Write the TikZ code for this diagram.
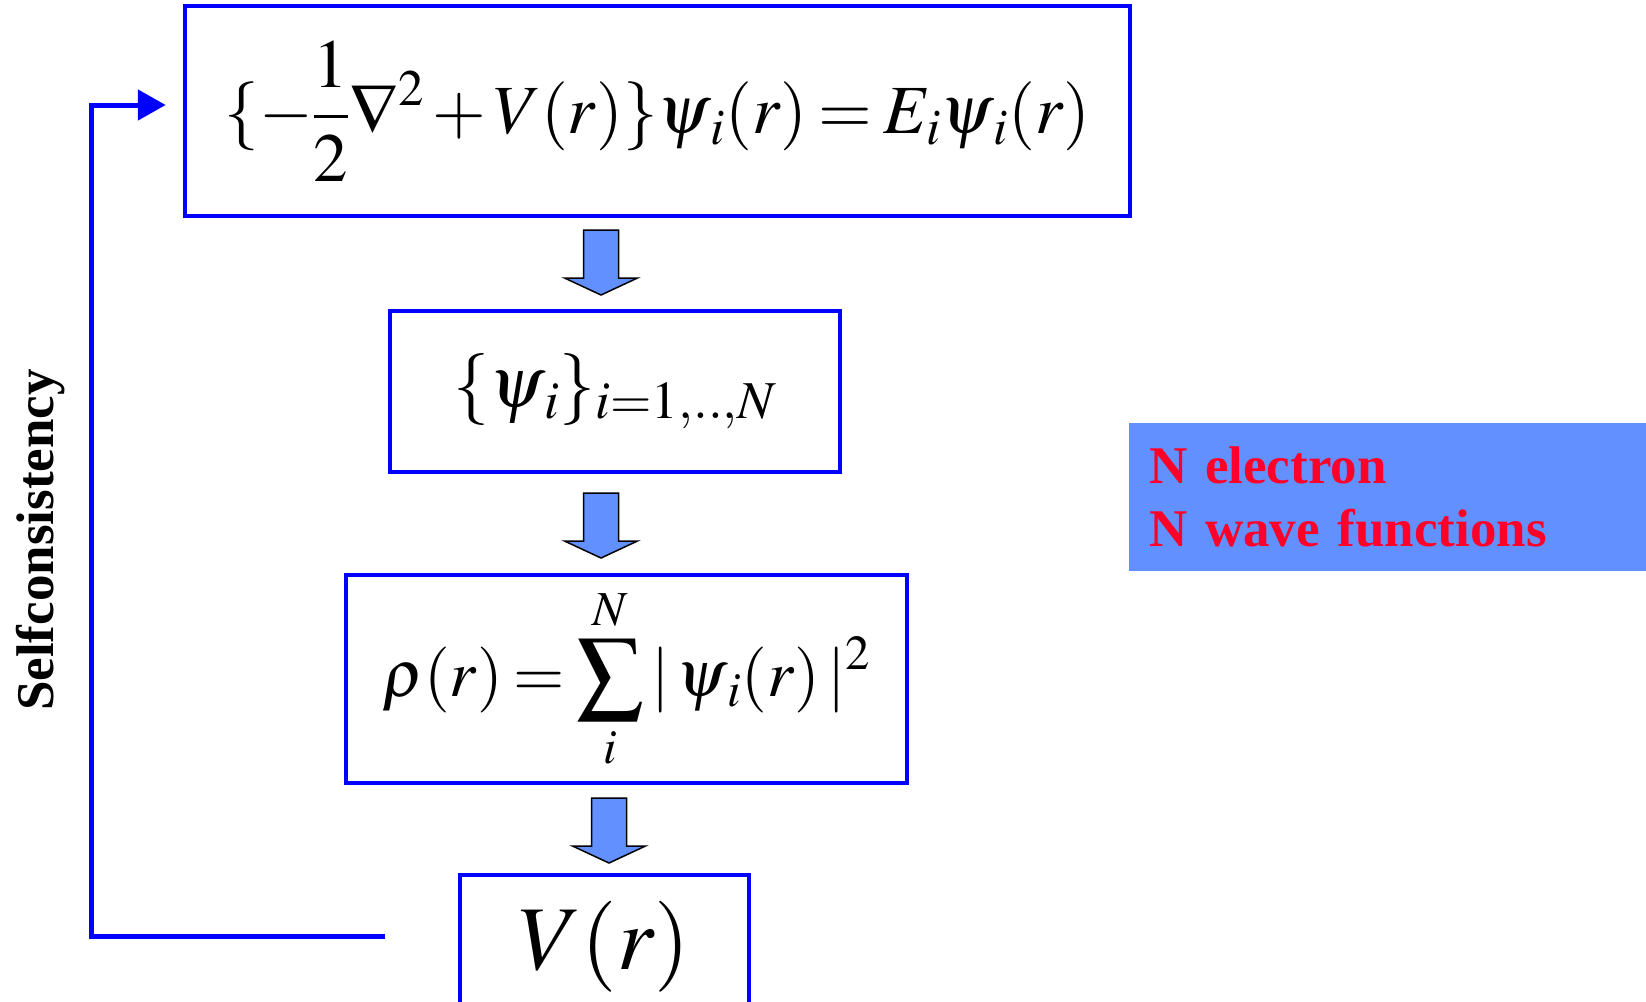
\documentclass[tikz,border=0pt]{standalone}
\usepackage{mathptmx}
\usepackage[no-math]{fontspec}
\setmainfont{Liberation Serif}
\usetikzlibrary{arrows.meta,calc}
\definecolor{ScfBlue}{RGB}{0,0,255}
\definecolor{ScfSky}{RGB}{98,145,255}
\definecolor{ScfRed}{RGB}{255,0,40}
\tikzset{
  scf/box/.style={
    draw=ScfBlue,
    line width=4.5pt,
    fill=white,
    inner sep=0pt,
    align=center,
    text=black,
    execute at begin node={\thickmuskip=3mu\medmuskip=2mu}
  },
  scf/loop/.style={draw=ScfBlue, line width=5pt, line join=miter, -{Triangle[length=28pt,width=30pt]}},
  scf/blk/.style={fill=ScfSky, draw=black, line width=1.5pt, line join=miter},
  scf/note/.style={
    fill=ScfSky,
    text=ScfRed,
    align=left,
    anchor=north west,
    inner xsep=20pt,
    inner ysep=0pt,
    minimum width=517pt,
    text width=477pt,
    minimum height=148pt,
    font=\fontsize{53}{63}\selectfont\bfseries
  },
  scf/side/.style={rotate=90, font=\fontsize{53}{60}\selectfont\bfseries},
  pics/scf/down/.style={code={
    \draw[scf/blk] (-17.5,0) -- (17.5,0) -- (17.5,48) -- (36.5,48) -- (0,65)
      -- (-36.5,48) -- (-17.5,48) -- cycle;
  }}
}

\begin{document}
\begin{tikzpicture}[x=1pt,y=-1pt]
  \useasboundingbox (0,0) rectangle (1646,1001);
  \node[scf/box,minimum width=945pt,minimum height=210pt,font=\fontsize{69}{75}\selectfont] (ks) at (657.5,111)
    {$\displaystyle\{-\frac{1}{2}\nabla^{2}+V(r)\}\psi_{\,i}(r)=E_{i}\psi_{\,i}(r)$};
  \node[scf/box,minimum width=450pt,minimum height=161pt,font=\fontsize{72}{78}\selectfont] (wf) at (615,391.5)
    {$\{\psi_{\,i}\}_{i=1,..,N}$};
  \node[scf/box,minimum width=561pt,minimum height=208pt,font=\fontsize{66}{72}\selectfont] (rho) at (626.5,679)
    {$\displaystyle\rho(r)=\sum_{i}^{N}|\,\psi_{\,i}(r)\,|^{2}$};
  \node[scf/box,minimum width=289pt,minimum height=144pt,font=\fontsize{91}{97}\selectfont] (pot) at (604.5,947)
    {$V(r)$};
  \pic at (601,230) {scf/down};
  \pic at (601,493) {scf/down};
  \pic at (609,798) {scf/down};
  \coordinate (fb) at (385,936);
  \draw[scf/loop] (fb) -- (91,936) |- ([xshift=-17pt,yshift=6pt]ks.west);
  \node[scf/side] (sc) at (41,540) {Selfconsistency};
  \node[scf/note] (nb) at (1129,423) {N electron\\N wave functions};
\end{tikzpicture}
\end{document}
